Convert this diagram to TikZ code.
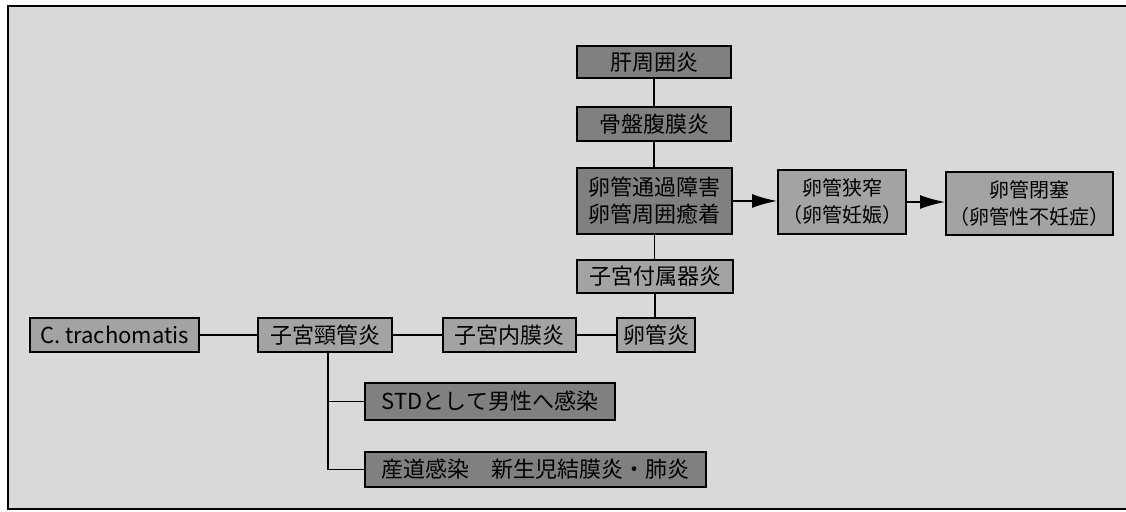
\documentclass[tikz,border=0pt]{standalone}
\usepackage{fontspec}
\setmainfont{Noto Sans CJK JP}
\usetikzlibrary{arrows.meta}
\definecolor{bgray}{gray}{0.85}
\definecolor{dbox}{gray}{0.50}
\definecolor{mbox}{gray}{0.64}
\tikzset{
  box/.style={draw=black, line width=1pt, inner sep=1pt, align=center,
    font=\fontsize{11}{13.5}\selectfont},
  darkbox/.style={box, fill=dbox},
  midbox/.style={box, fill=mbox},
  conn/.style={line width=0.8pt},
  arr/.style={line width=0.8pt, -{Latex[length=12.5pt,width=7pt]}},
}
\begin{document}
\begin{tikzpicture}[x=0.5pt,y=-0.5pt]
\useasboundingbox (0,0) rectangle (1126,512);
\fill[white] (0,0) rectangle (1126,512);
\fill[bgray] (8,6) rectangle (1126,509);
\draw[line width=1pt] (1126,6) -- (8,6) -- (8,509) -- (1126,509);

\node[darkbox, minimum width=77pt, minimum height=16pt] (kan) at (654,62) {肝周囲炎};
\node[darkbox, minimum width=77pt, minimum height=17pt] (kotsu) at (654,124) {骨盤腹膜炎};
\node[darkbox, minimum width=77.5pt, minimum height=33pt] (tsuka) at (654.5,201) {卵管通過障害\\卵管周囲癒着};
\node[midbox, minimum width=78pt, minimum height=16.5pt] (fuzoku) at (655,276.5) {子宮付属器炎};
\node[midbox, minimum width=64pt, minimum height=32pt, font=\fontsize{10}{13.5}\selectfont] (kyosaku) at (842,202) {卵管狭窄\\（卵管妊娠）};
\node[midbox, minimum width=83.5pt, minimum height=31.5pt, font=\fontsize{10}{13.5}\selectfont] (heisoku) at (1029.5,203.5) {卵管閉塞\\（卵管性不妊症）};

\node[midbox, minimum width=84.5pt, minimum height=17pt] (ct) at (114.5,335) {C. trachomatis};
\node[midbox, minimum width=67pt, minimum height=17pt] (keikan) at (325,335) {子宮頸管炎};
\node[midbox, minimum width=66.5pt, minimum height=17pt] (naimaku) at (509.5,335) {子宮内膜炎};
\node[midbox, minimum width=39pt, minimum height=17pt] (rankan) at (656,335) {卵管炎};

\node[darkbox, minimum width=125pt, minimum height=18.5pt] (std) at (490,401.5) {STDとして男性へ感染};
\node[darkbox, minimum width=170.5pt, minimum height=17.5pt] (sando) at (535.5,469.5) {産道感染　新生児結膜炎・肺炎};

\coordinate (br1) at (328,401.5);
\coordinate (br2) at (328,469.5);

\draw[conn] (kan.south) -- (kan.south |- kotsu.north);
\draw[conn] (kotsu.south) -- (kotsu.south |- tsuka.north);
\draw[conn] (tsuka.south) -- (tsuka.south |- fuzoku.north);
\draw[conn] (fuzoku.south) -- (fuzoku.south |- rankan.north);
\draw[arr] (tsuka.east) -- (kyosaku.west |- tsuka.east);
\draw[arr] (kyosaku.east) -- (heisoku.west |- kyosaku.east);
\draw[conn] (ct.east) -- (keikan.west);
\draw[conn] (keikan.east) -- (naimaku.west);
\draw[conn] (naimaku.east) -- (rankan.west);
\draw[conn] (keikan.south -| br1) -- (br2) -- (sando.west);
\draw[conn] (br1) -- (std.west);
\end{tikzpicture}
\end{document}
